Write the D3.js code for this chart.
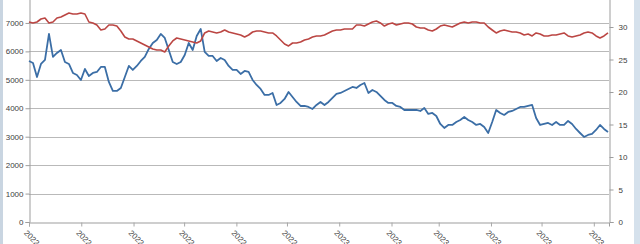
<!DOCTYPE html>
<html>
<head>
<meta charset="utf-8">
<script src="https://cdn.jsdelivr.net/npm/d3@7"></script>
<style>
  html, body { margin: 0; padding: 0; background: #fff; }
  svg { display: block; font-family: "Liberation Sans", "DejaVu Sans", sans-serif; }
</style>
</head>
<body>
<div id="chart"></div>
<script>
// monthly tick dates on the category (date) axis
const tickDates = ['2022-07-01', '2022-08-01', '2022-09-01', '2022-10-01', '2022-11-01', '2022-12-01',
  '2023-01-01', '2023-02-01', '2023-03-01', '2023-04-01', '2023-05-01', '2023-06-01'];
const axisStart = '2022-07-01';
const axisEnd = '2023-06-10';

const leftTicks = [0, 1000, 2000, 3000, 4000, 5000, 6000, 7000, 8000];
const rightTicks = [0, 5, 10, 15, 20, 25, 30, 35];

// blue series, left axis (evenly spaced samples across the period)
const seriesBlue = [
  5663, 5593, 5100, 5557, 5698, 6613, 5804, 5944, 6050, 5628,
  5557, 5241, 5171, 4995, 5382, 5135, 5241, 5276, 5452, 5452,
  4924, 4608, 4608, 4713, 5100, 5487, 5346, 5487, 5663, 5804,
  6085, 6296, 6402, 6613, 6472, 6050, 5628, 5557, 5628, 5874,
  6296, 6050, 6542, 6789, 5980, 5839, 5839, 5663, 5769, 5698,
  5487, 5346, 5346, 5206, 5311, 5276, 4995, 4819, 4678, 4467,
  4467, 4537, 4115, 4186, 4326, 4573, 4397, 4221, 4080, 4080,
  4045, 3975, 4115, 4221, 4115, 4221, 4362, 4502, 4537, 4608,
  4678, 4749, 4713, 4819, 4889, 4537, 4643, 4573, 4432, 4291,
  4186, 4186, 4080, 4045, 3939, 3939, 3939, 3939, 3904, 4010,
  3799, 3834, 3728, 3447, 3306, 3412, 3412, 3517, 3588, 3693,
  3588, 3517, 3412, 3447, 3341, 3130, 3517, 3939, 3834, 3764,
  3869, 3904, 3975, 4045, 4045, 4080, 4115, 3658, 3412, 3447,
  3482, 3412, 3517, 3412, 3412, 3553, 3447, 3271, 3130, 2990,
  3060, 3095, 3236, 3412, 3271, 3166
];

// red series, right axis
const seriesRed = [
  30.77, 30.62, 30.77, 31.23, 31.38, 30.62, 30.77, 31.38, 31.54, 31.85,
  32.15, 32.0, 32.0, 32.15, 32.0, 30.77, 30.62, 30.31, 29.54, 29.69,
  30.31, 30.31, 30.15, 29.38, 28.46, 28.15, 28.15, 27.85, 27.54, 27.23,
  26.92, 26.62, 26.46, 26.46, 26.15, 27.08, 27.85, 28.31, 28.15, 28.0,
  27.85, 27.69, 27.54, 27.85, 29.08, 29.38, 29.23, 29.08, 29.23, 29.54,
  29.23, 29.08, 28.92, 28.77, 28.46, 28.77, 29.23, 29.38, 29.38, 29.23,
  29.08, 29.08, 28.62, 28.0, 27.38, 27.08, 27.54, 27.54, 27.69, 28.0,
  28.15, 28.46, 28.62, 28.62, 28.77, 29.08, 29.38, 29.54, 29.54, 29.69,
  29.69, 29.69, 30.31, 30.31, 30.15, 30.46, 30.77, 30.92, 30.62, 30.15,
  30.46, 30.62, 30.31, 30.46, 30.62, 30.62, 30.46, 30.0, 29.85, 29.85,
  29.54, 29.38, 29.69, 30.15, 30.31, 30.15, 30.0, 30.31, 30.62, 30.77,
  30.62, 30.77, 30.77, 30.62, 30.62, 30.0, 29.54, 29.08, 29.38, 29.54,
  29.38, 29.23, 29.23, 29.08, 28.77, 28.92, 28.62, 29.08, 28.92, 28.62,
  28.62, 28.77, 28.77, 28.92, 29.08, 28.62, 28.46, 28.62, 28.77, 29.08,
  29.23, 29.08, 28.62, 28.31, 28.62, 29.08
];

function drawChart() {
  const W = 640, H = 244;
  const left = 29, right = 609, bottom = 222, top = -5.5;

  const svg = d3.select('#chart')
    .append('svg')
    .attr('width', W)
    .attr('height', H);

  svg.append('rect').attr('width', W).attr('height', H).attr('fill', '#fff');

  // window frame strips at the edges
  svg.append('rect').attr('x', 0).attr('y', 0).attr('width', 3).attr('height', H).attr('fill', '#c9d5e1');
  svg.append('rect').attr('x', 634).attr('y', 0).attr('width', 6).attr('height', H).attr('fill', '#d5e1ec');

  const parse = d3.utcParse('%Y-%m-%d');
  const x = d3.scaleUtc()
    .domain([parse(axisStart), parse(axisEnd)])
    .range([left, right]);

  // samples are evenly spaced over the plotted period
  const xi = d3.scaleLinear()
    .domain([0, seriesBlue.length - 1])
    .range([left, right - 1]);

  const yL = d3.scaleLinear().domain([0, 8000]).range([bottom, top]);
  const yR = d3.scaleLinear().domain([0, 35]).range([bottom, top]);

  // horizontal gridlines
  svg.append('g')
    .selectAll('line')
    .data(leftTicks.filter(d => d > 0))
    .enter()
    .append('line')
    .attr('x1', left)
    .attr('x2', right)
    .attr('y1', d => Math.round(yL(d)) + 0.5)
    .attr('y2', d => Math.round(yL(d)) + 0.5)
    .attr('stroke', '#b9b9b9')
    .attr('stroke-width', 1);

  // left axis
  const axL = svg.append('g')
    .attr('transform', `translate(${left + 0.5},0)`)
    .call(d3.axisLeft(yL).tickValues(leftTicks).tickSize(4).tickPadding(2).tickFormat(d3.format('d')));
  axL.select('.domain').attr('stroke', '#9d9d9d');
  axL.selectAll('.tick line').attr('stroke', '#9d9d9d');
  axL.selectAll('text').attr('fill', '#404040').style('font-size', '8px');

  // right axis
  const axR = svg.append('g')
    .attr('transform', `translate(${right + 0.5},0)`)
    .call(d3.axisRight(yR).tickValues(rightTicks).tickSize(4).tickPadding(5));
  axR.select('.domain').attr('stroke', '#9d9d9d');
  axR.selectAll('.tick line').attr('stroke', '#9d9d9d');
  axR.selectAll('text').attr('fill', '#404040').style('font-size', '8px');

  // bottom axis with monthly ticks
  const axB = svg.append('g')
    .attr('transform', `translate(0,${bottom + 0.5})`)
    .call(d3.axisBottom(x).tickValues(tickDates.map(parse)).tickSize(4).tickFormat(d3.utcFormat('%Y-%m-%d')));
  axB.select('.domain').attr('stroke', '#9d9d9d');
  axB.selectAll('.tick line').attr('stroke', '#a8a8a8');
  axB.selectAll('text')
    .attr('fill', '#404040')
    .style('font-size', '8px')
    .style('text-anchor', 'start')
    .attr('dy', 0)
    .attr('transform', 'translate(-1,6)rotate(45)');

  // lines
  const lineBlue = d3.line()
    .x((d, i) => xi(i))
    .y(d => yL(d));

  const lineRed = d3.line()
    .x((d, i) => xi(i))
    .y(d => yR(d));

  svg.append('path')
    .datum(seriesBlue)
    .attr('fill', 'none')
    .attr('stroke', '#3b6ea6')
    .attr('stroke-width', 1.8)
    .attr('stroke-linejoin', 'round')
    .attr('d', lineBlue);

  svg.append('path')
    .datum(seriesRed)
    .attr('fill', 'none')
    .attr('stroke', '#bb4643')
    .attr('stroke-width', 1.6)
    .attr('stroke-linejoin', 'round')
    .attr('d', lineRed);
}

drawChart();
</script>
</body>
</html>
